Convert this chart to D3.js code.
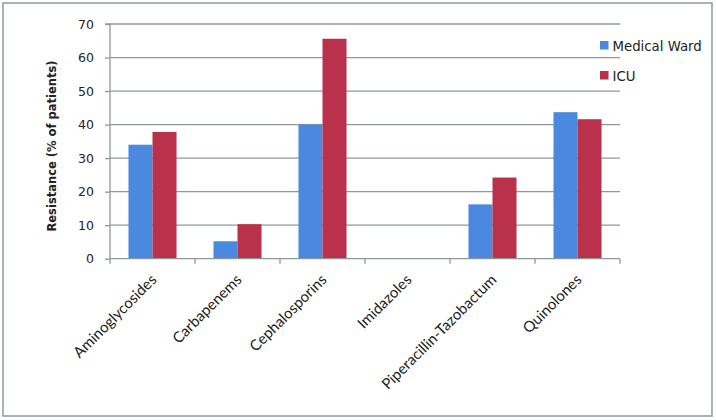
<!DOCTYPE html>
<html><head><meta charset="utf-8">
<script src="https://cdn.jsdelivr.net/npm/d3@7"></script>
<style>body{margin:0;background:#fff}svg{display:block}</style>
</head><body><svg id="c" width="716" height="420"></svg>
<script>
const categories = ["Aminoglycosides","Carbapenems","Cephalosporins","Imidazoles","Piperacillin-Tazobactum","Quinolones"];
const seriesNames = ["Medical Ward","ICU"];
const medicalWard = [34, 5.2, 40, 0, 16.2, 43.7];
const icu = [37.8, 10.3, 65.6, 0, 24.2, 41.6];
const yTicks = [0,10,20,30,40,50,60,70];
const colors = ["#4A89DF","#B9314A"];

const svg = d3.select("#c");
svg.append("rect").attr("x",3).attr("y",3).attr("width",709).attr("height",413)
  .attr("fill","#fff").attr("stroke","#8c9a9a").attr("stroke-width",1.5);

const L=110, R=620, T=24, B=258.7;
const x = d3.scaleBand().domain(categories).range([L,R]);
const xs = d3.scaleBand().domain(seriesNames).range([0,x.bandwidth()]).paddingOuter(0.77).paddingInner(0);
const y = d3.scaleLinear().domain([0,70]).range([B,T]);

// gridlines
svg.append("g").selectAll("line").data(yTicks.filter(d=>d>0)).join("line")
  .attr("x1",L).attr("x2",R).attr("y1",d=>y(d)).attr("y2",d=>y(d))
  .attr("stroke","#8c9a9a").attr("stroke-width",1.3);

const data = categories.map((c,i)=>({c, vals:[medicalWard[i], icu[i]]}));
const g = svg.append("g").selectAll("g").data(data).join("g")
  .attr("transform",d=>`translate(${x(d.c)},0)`);
g.selectAll("rect").data(d=>d.vals.map((v,j)=>({v,s:seriesNames[j],j}))).join("rect")
  .attr("x",d=>xs(d.s)).attr("width",xs.bandwidth())
  .attr("y",d=>y(d.v)).attr("height",d=>B-y(d.v))
  .attr("fill",d=>colors[d.j]);

// y axis
const ya = d3.axisLeft(y).tickValues(yTicks).tickSize(5).tickPadding(11);
const yg = svg.append("g").attr("transform",`translate(${L},0)`).call(ya);
yg.select(".domain").attr("stroke","#8c9a9a").attr("stroke-width",1.3).attr("d",`M-5,${T}H0V${B}`);
yg.selectAll(".tick line").attr("stroke","#8c9a9a").attr("stroke-width",1.3);
yg.selectAll(".tick text").attr("font-family","DejaVu Sans").attr("font-size",12.5).attr("fill","#222");

// x axis
const xa = d3.axisBottom(x).tickSize(0).tickFormat("");
const xg = svg.append("g").attr("transform",`translate(0,${B})`).call(xa);
xg.select(".domain").attr("stroke","#8c9a9a").attr("stroke-width",1.3).attr("d",`M${L},0H${R}`);
const bounds = categories.map(c=>x(c)).concat([R]);
xg.selectAll("line.b").data(bounds).join("line").attr("class","b")
  .attr("x1",d=>d).attr("x2",d=>d).attr("y1",0).attr("y2",5)
  .attr("stroke","#8c9a9a").attr("stroke-width",1.3);
svg.append("g").selectAll("text").data(categories).join("text")
  .attr("transform",d=>`translate(${x(d)+x.bandwidth()/2+5},${B+22}) rotate(-45)`)
  .attr("text-anchor","end").attr("font-family","Lato").attr("font-size",15).attr("fill","#222")
  .text(d=>d);

// y title
svg.append("text").attr("transform",`translate(56,146) rotate(-90)`).attr("text-anchor","middle")
  .attr("font-family","DejaVu Sans").attr("font-weight","bold").attr("font-size",11.5).attr("fill","#222")
  .text("Resistance  (% of patients)");

// legend
const lg = svg.append("g").selectAll("g").data(seriesNames).join("g")
  .attr("transform",(d,i)=>`translate(600,${41+i*30})`);
lg.append("rect").attr("width",8.5).attr("height",8.5).attr("fill",(d,i)=>colors[i]);
lg.append("text").attr("x",12.5).attr("y",9.5).attr("font-family","DejaVu Sans").attr("font-size",13.3).attr("fill","#222").text(d=>d);
</script></body></html>
